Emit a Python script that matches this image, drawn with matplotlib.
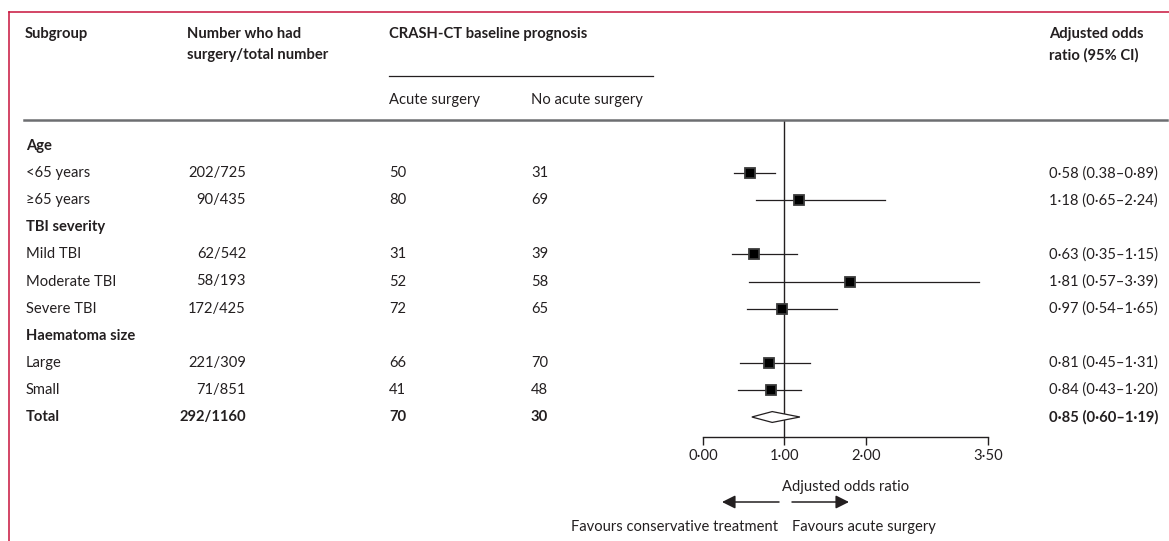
import matplotlib
matplotlib.use("Agg")
import matplotlib.pyplot as plt
import matplotlib.transforms as mtransforms
from matplotlib.lines import Line2D
from matplotlib.patches import FancyArrowPatch

plt.rcParams['font.family'] = ['Lato', 'DejaVu Sans']
plt.rcParams['font.size'] = 10.6

# data
labels = ['Age', '<65 years', '≥65 years', 'TBI severity', 'Mild TBI', 'Moderate TBI',
          'Severe TBI', 'Haematoma size', 'Large', 'Small', 'Total']
heading = [True, False, False, True, False, False, False, True, False, False, False]
surgery_n = ['', '202/725', '90/435', '', '62/542', '58/193', '172/425', '', '221/309', '71/851', '292/1160']
acute = ['', '50', '80', '', '31', '52', '72', '', '66', '41', '70']
no_acute = ['', '31', '69', '', '39', '58', '65', '', '70', '48', '30']
odds = [None, 0.58, 1.18, None, 0.63, 1.81, 0.97, None, 0.81, 0.84, 0.85]
ci_lo = [None, 0.38, 0.65, None, 0.35, 0.57, 0.54, None, 0.45, 0.43, 0.60]
ci_hi = [None, 0.89, 2.24, None, 1.15, 3.39, 1.65, None, 1.31, 1.20, 1.19]
ci_text = ['', '0·58 (0.38–0·89)', '1·18 (0·65–2·24)', '', '0·63 (0·35–1·15)', '1·81 (0·57–3·39)',
           '0·97 (0·54–1·65)', '', '0·81 (0·45–1·31)', '0·84 (0·43–1·20)', '0·85 (0·60–1·19)']
xticks = [0, 1, 2, 3.5]
xtick_labels = ['0·00', '1·00', '2·00', '3·50']

W, H = 1169, 541
TXT = '#231f20'
fig = plt.figure(figsize=(W / 100, H / 100), dpi=100)

# forest plot axes, placed in pixel terms
top_px, axis_px = 120, 437
row0_px, step_px = 146, 27.1
ax = fig.add_axes([703 / W, 1 - axis_px / H, (988 - 703) / W, (axis_px - top_px) / H])
ax.set_xlim(0, 3.5)
ax.set_ylim((axis_px - row0_px) / step_px, (top_px - row0_px) / step_px)
for s in ['top', 'left', 'right']:
    ax.spines[s].set_visible(False)
ax.spines['bottom'].set_linewidth(1)
ax.spines['bottom'].set_color(TXT)
ax.set_yticks([])
ax.set_xticks(xticks, xtick_labels)
ax.tick_params(axis='x', direction='out', length=6, width=1, color=TXT,
               labelcolor=TXT, pad=3)
ax.set_xlabel('Adjusted odds ratio', color=TXT, labelpad=12)
ax.axvline(1, color=TXT, lw=1)

n = len(labels)
for i in range(n):
    if odds[i] is None:
        continue
    if labels[i] == 'Total':
        ax.fill([ci_lo[i], odds[i], ci_hi[i], odds[i]], [i, i - 0.2, i, i + 0.2],
                facecolor='white', edgecolor=TXT, lw=0.9, zorder=3)
    else:
        ax.plot([ci_lo[i], ci_hi[i]], [i, i], color=TXT, lw=0.9, zorder=2)
        ax.plot(odds[i], i, marker='s', ms=7.8, mfc='black', mec='#3a3a3a', mew=1.3, zorder=3)

# table columns
tr = mtransforms.blended_transform_factory(fig.transFigure, ax.transData)
for i in range(n):
    bold = heading[i] or labels[i] == 'Total'
    fw = 'bold' if bold else 'normal'
    ax.text(26 / W, i, labels[i], transform=tr, ha='left', va='center', color=TXT, fontweight=fw)
    ax.text(246 / W, i, surgery_n[i], transform=tr, ha='right', va='center', color=TXT, fontweight=fw)
    ax.text(389 / W, i, acute[i], transform=tr, ha='left', va='center', color=TXT, fontweight=fw)
    ax.text(531 / W, i, no_acute[i], transform=tr, ha='left', va='center', color=TXT, fontweight=fw)
    ax.text(1049 / W, i, ci_text[i], transform=tr, ha='left', va='center', color=TXT, fontweight=fw)


def ftext(x, y, s, **kw):
    fig.text(x / W, 1 - y / H, s, color=TXT, va='center', **kw)


ftext(25, 34, 'Subgroup', fontweight='bold')
ftext(187, 34, 'Number who had', fontweight='bold')
ftext(187, 55, 'surgery/total number', fontweight='bold')
ftext(389, 34, 'CRASH-CT baseline prognosis', fontweight='bold')
ftext(389, 100, 'Acute surgery')
ftext(531, 100, 'No acute surgery')
ftext(1049, 34, 'Adjusted odds', fontweight='bold')
ftext(1049, 55, 'ratio (95% CI)', fontweight='bold')
ftext(778, 527, 'Favours conservative treatment', ha='right')
ftext(792, 527, 'Favours acute surgery', ha='left')

# rules
fig.add_artist(Line2D([389 / W, 653 / W], [1 - 76 / H] * 2, color=TXT, lw=0.9))
fig.add_artist(Line2D([24 / W, 1167 / W], [1 - 120 / H] * 2, color='#6d6e71', lw=1.8))
fig.add_artist(Line2D([9 / W, 1], [1 - 12 / H] * 2, color='#c8143c', lw=1.1))
fig.add_artist(Line2D([9 / W, 9 / W], [0, 1 - 12 / H], color='#c8143c', lw=1.1))

# direction arrows
arrow_y = 1 - 502 / H
for x0, x1 in [(779, 722), (792, 849)]:
    fig.add_artist(FancyArrowPatch((x0 / W, arrow_y), (x1 / W, arrow_y),
                                   transform=fig.transFigure,
                                   arrowstyle='-|>,head_length=0.5,head_width=0.25',
                                   mutation_scale=16, color=TXT, lw=1.1,
                                   shrinkA=0, shrinkB=0))

fig.savefig('out.png', dpi=100, facecolor='white')
